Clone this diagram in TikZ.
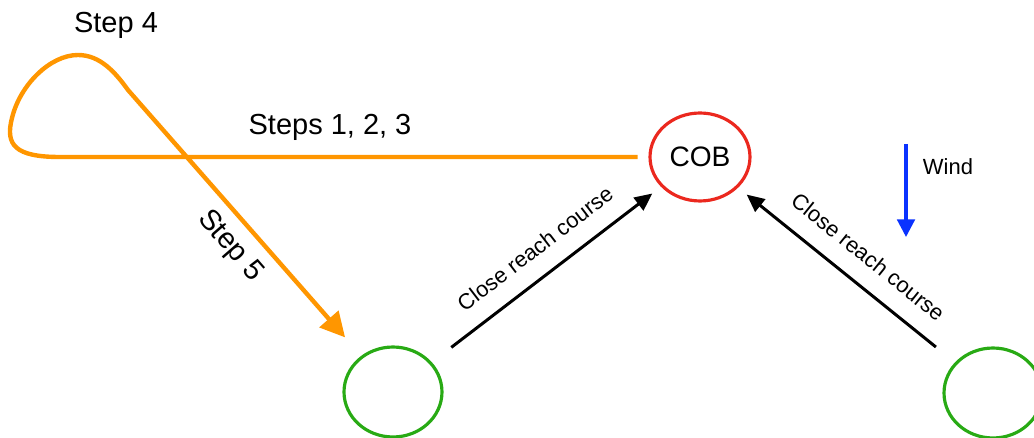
\documentclass[tikz,border=0pt]{standalone}
\usepackage{fontspec}
\setmainfont{Liberation Sans}
\usetikzlibrary{shapes.geometric, arrows.meta}
\definecolor{sailorange}{RGB}{255,150,0}
\definecolor{cobred}{RGB}{235,40,30}
\definecolor{boatgreen}{RGB}{40,170,20}
\definecolor{windblue}{RGB}{10,50,255}
\begin{document}
\begin{tikzpicture}[x=0.02cm,y=-0.02cm,
  cob/.style={ellipse,draw=cobred,line width=1.8pt,minimum width=2cm,minimum height=1.76cm,inner sep=0pt,outer sep=0.25cm,font=\fontsize{16}{19}\selectfont},
  boat/.style={ellipse,draw=boatgreen,line width=1.8pt,minimum width=1.96cm,minimum height=1.8cm,inner sep=0pt,outer sep=0.52cm},
  track/.style={draw=sailorange,line width=2.5pt,line join=round,-{Triangle[length=14pt,width=14pt]}},
  course/.style={-{Triangle[length=10pt,width=9pt]},line width=1.7pt},
  windarr/.style={-{Triangle[length=10pt,width=10pt]},draw=windblue,line width=1.8pt},
  steplbl/.style={font=\fontsize{16.5}{19}\selectfont},
  lbl/.style={font=\fontsize{12.5}{14}\selectfont}
]
  \useasboundingbox (0,0) rectangle (1034,438);
  \node[cob]  (cob)   at (700,157) {COB};
  \node[boat] (boat1) at (393,392) {};
  \node[boat] (boat2) at (993,393) {};
  \coordinate (windtop) at (906,144);
  \coordinate (windtip) at (906,237);
  \node[lbl]  (windlbl) at (948,167) {Wind};

  \node[steplbl] (s123) at (330,127) {Steps 1, 2, 3};
  \node[steplbl] (s4)   at (116,25)  {Step 4};
  \node[steplbl,rotate=-49] (s5) at (230,246) {Step 5};

  % man overboard track
  \draw[track] (cob.west) -- (60,157)
    .. controls (15,157) and (5,145) .. (12,118)
    .. controls (20,85) and (50,55) .. (78,55)
    .. controls (100,55) and (115,72) .. (128,90) -- (boat1);

  \draw[course] (boat1) -- node[lbl,sloped,above=7pt]{Close reach course} (cob);
  \draw[course] (boat2) -- node[lbl,sloped,above=7pt,pos=0.45]{Close reach course} (cob);
  \draw[windarr] (windtop) -- (windtip);
\end{tikzpicture}
\end{document}
